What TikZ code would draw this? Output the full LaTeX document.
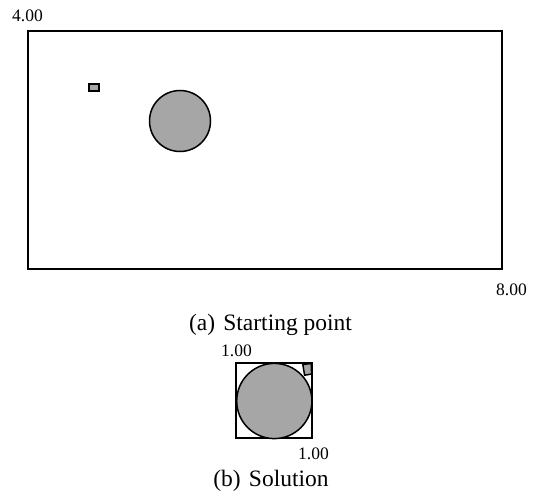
\documentclass[tikz,border=0pt]{standalone}
\usepackage{fontspec}
\setmainfont{Liberation Serif}
\definecolor{shapegray}{gray}{0.65}
\begin{document}
\begin{tikzpicture}[x=1pt,y=1pt,
  frame/.style={draw=black,line width=1.9pt},
  piece/.style={draw=black,fill=shapegray,line width=1.5pt},
  numlabel/.style={font=\fontsize{17.5}{20}\selectfont,inner sep=0pt},
  captext/.style={font=\fontsize{23.5}{28}\selectfont,inner sep=0pt}]
\useasboundingbox (0,0) rectangle (534,499);
% (a) starting point
\draw[frame] (28,230) rectangle (502,468);
\draw[piece] (89,408) rectangle (99,415);
\draw[piece] (180,378) circle (30.5);
\node[numlabel,anchor=base west] (h4) at (12,477) {4.00};
\node[numlabel,anchor=base west] (w8) at (496,203.5) {8.00};
\node[captext,anchor=base] (capa) at (270.5,168.5) {(a)\hspace{0.35em}Starting point};
% (b) solution
\draw[frame] (236,61) rectangle (312,136);
\draw[piece] (274.3,98) circle (37.6);
\draw[piece] (302.8,134.5) -- (311.2,135.5) -- (311.6,125) -- (304.6,123.8) -- cycle;
\node[numlabel,anchor=base west] (h1) at (221,142.5) {1.00};
\node[numlabel,anchor=base west] (w1) at (298,40) {1.00};
\node[captext,anchor=base] (capb) at (271,12.5) {(b)\hspace{0.35em}Solution};
\end{tikzpicture}
\end{document}
